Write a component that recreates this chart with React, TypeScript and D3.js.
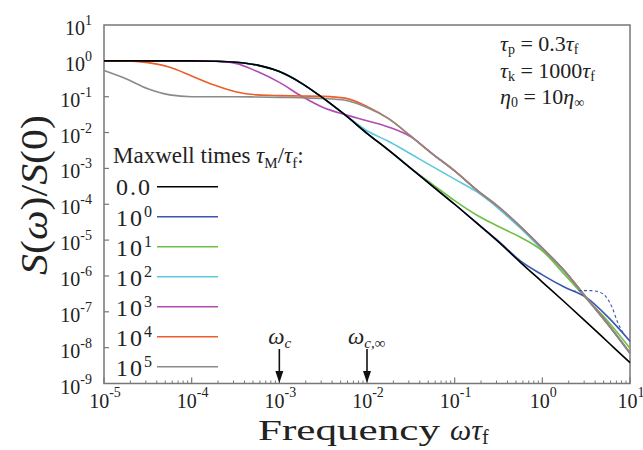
import React from "react";
import * as d3 from "d3";

const WIDTH = 643;
const HEIGHT = 450;
const PLOT = { left: 104, right: 630, top: 25, bottom: 383.5 };
const FONT = "Liberation Serif, Tinos, Times New Roman, DejaVu Serif, serif";

// log10(omega * tau_f) grid shared by all curves
const logOmega = [
  -5, -4.75, -4.5, -4.25, -4, -3.75, -3.5, -3.25, -3, -2.75, -2.5, -2.25, -2,
  -1.75, -1.5, -1.25, -1, -0.75, -0.5, -0.25, 0, 0.25, 0.5, 0.75, 1,
];

// log10 S(w)/S(0), one array per Maxwell time
const tau0 = [0, 0, 0, 0, 0, -0.01, -0.04, -0.12, -0.3, -0.62, -1.04, -1.51, -2.02, -2.5, -3.0, -3.5, -4.0, -4.52, -5.05, -5.62, -6.17, -6.72, -7.28, -7.85, -8.42];
const tau1 = [0, 0, 0, 0, 0, -0.01, -0.04, -0.12, -0.3, -0.62, -1.04, -1.51, -2.02, -2.5, -3.0, -3.5, -4.0, -4.52, -5.03, -5.58, -5.97, -6.31, -6.6, -7.15, -7.82];
const tau10 = [0, 0, 0, 0, 0, -0.01, -0.04, -0.12, -0.3, -0.62, -1.04, -1.51, -2.02, -2.5, -3.0, -3.45, -3.9, -4.3, -4.62, -4.92, -5.3, -5.95, -6.62, -7.27, -8.02];
const tau100 = [0, 0, 0, 0, 0, -0.01, -0.04, -0.12, -0.3, -0.62, -1.04, -1.51, -1.95, -2.25, -2.6, -2.95, -3.3, -3.65, -4.12, -4.67, -5.27, -5.88, -6.62, -7.37, -8.17];
const tau1000 = [0, 0, 0, 0, 0, -0.01, -0.07, -0.3, -0.6, -0.98, -1.3, -1.5, -1.67, -1.85, -2.12, -2.6, -3.07, -3.6, -4.07, -4.62, -5.22, -5.85, -6.6, -7.35, -8.15];
const tau1e4 = [0, 0, -0.05, -0.18, -0.42, -0.67, -0.86, -0.95, -0.97, -0.98, -0.99, -1.04, -1.27, -1.62, -2.1, -2.6, -3.07, -3.6, -4.07, -4.62, -5.22, -5.85, -6.6, -7.35, -8.15];
const tau1e5 = [-0.27, -0.5, -0.78, -0.95, -1.0, -1.0, -1.0, -1.01, -1.02, -1.03, -1.05, -1.1, -1.3, -1.62, -2.1, -2.6, -3.07, -3.6, -4.07, -4.62, -5.22, -5.85, -6.6, -7.35, -8.15];

// dashed branch of the tau_M = 1 curve
const dashedOmega = [0.35, 0.45, 0.55, 0.65, 0.72, 0.8, 0.86, 0.93];
const dashedS = [-6.43, -6.41, -6.41, -6.45, -6.56, -6.9, -7.3, -7.62];

const legendLabels = ["0.0", "0", "1", "2", "3", "4", "5"];
const colors = ["#000000", "#3a55b4", "#6ec043", "#5cc8de", "#b04cb3", "#ea5f2c", "#8a8a8a"];
const seriesValues = [tau0, tau1, tau10, tau100, tau1000, tau1e4, tau1e5];
const drawOrder = [3, 2, 1, 4, 5, 6, 0];

const xExponents = [-5, -4, -3, -2, -1, 0, 1];
const yExponents = [-9, -8, -7, -6, -5, -4, -3, -2, -1, 0, 1];
const arrowOmegas = [1e-3, 1e-2];

const x = d3.scaleLog().domain([1e-5, 10]).range([PLOT.left, PLOT.right]);
const y = d3.scaleLog().domain([1e-9, 10]).range([PLOT.bottom, PLOT.top]);

const line = d3
  .line<[number, number]>()
  .x((d) => x(Math.pow(10, d[0])))
  .y((d) => y(Math.pow(10, d[1])))
  .curve(d3.curveMonotoneX);

const Pow10 = ({ exp, x0, y0, anchor, sup }: { exp: string; x0: number; y0: number; anchor: string; sup: number }) => (
  <text x={x0} y={y0} textAnchor={anchor} style={{ fontFamily: FONT }} fontSize={20} fill="#222">
    10
    <tspan dy={sup} fontSize={14}>
      {exp}
    </tspan>
  </text>
);

export default function App() {
  const minorTicks = x.ticks().filter((t) => Math.abs(Math.log10(t) - Math.round(Math.log10(t))) > 1e-6);

  return (
    <svg
      width={WIDTH}
      height={HEIGHT}
      style={{ position: "absolute", left: 0, top: 0, background: "white", fontFamily: FONT }}
    >
      {/* frame */}
      <rect
        x={PLOT.left}
        y={PLOT.top}
        width={PLOT.right - PLOT.left}
        height={PLOT.bottom - PLOT.top}
        fill="none"
        stroke="#777"
        strokeWidth={1.5}
      />

      {/* y ticks */}
      {yExponents.map((e) => (
        <g key={"y" + e}>
          {e > -9 && e < 1 && (
            <line x1={PLOT.left} x2={PLOT.left + 5} y1={y(Math.pow(10, e))} y2={y(Math.pow(10, e))} stroke="#777" strokeWidth={1.2} />
          )}
          <Pow10 exp={String(e)} x0={92} y0={y(Math.pow(10, e)) + 10} anchor="end" sup={-10} />
        </g>
      ))}

      {/* x ticks */}
      {xExponents.map((e) => (
        <g key={"x" + e}>
          <line x1={x(Math.pow(10, e))} x2={x(Math.pow(10, e))} y1={PLOT.bottom} y2={PLOT.bottom - 6} stroke="#777" strokeWidth={1.2} />
          <Pow10 exp={String(e)} x0={x(Math.pow(10, e)) + 1} y0={408} anchor="middle" sup={-11} />
        </g>
      ))}
      {minorTicks.map((t, i) => (
        <line key={"m" + i} x1={x(t)} x2={x(t)} y1={PLOT.bottom} y2={PLOT.bottom - 3} stroke="#777" strokeWidth={1} />
      ))}

      {/* curves */}
      {drawOrder.map((i) => (
        <path
          key={"c" + i}
          d={line(logOmega.map((lx, j) => [lx, seriesValues[i][j]] as [number, number])) || ""}
          fill="none"
          stroke={colors[i]}
          strokeWidth={1.6}
        />
      ))}
      <path
        d={line(dashedOmega.map((lx, j) => [lx, dashedS[j]] as [number, number])) || ""}
        fill="none"
        stroke={colors[1]}
        strokeWidth={1.1}
        strokeDasharray="3,2.5"
      />

      {/* arrows */}
      {arrowOmegas.map((w, i) => (
        <g key={"a" + i}>
          <line x1={x(w)} x2={x(w)} y1={349} y2={374} stroke="#111" strokeWidth={1.6} />
          <path d={`M${x(w) - 4},${371} L${x(w) + 4},${371} L${x(w)},${383} Z`} fill="#111" />
        </g>
      ))}
      <text x={x(1e-3) - 11} y={344} fontSize={23} fill="#222">
        <tspan fontStyle="italic">ω</tspan>
        <tspan dy={4} fontSize={15} fontStyle="italic">c</tspan>
      </text>
      <text x={x(1e-2) - 19} y={344} fontSize={23} fill="#222">
        <tspan fontStyle="italic">ω</tspan>
        <tspan dy={4} fontSize={15} fontStyle="italic">c,∞</tspan>
      </text>

      {/* parameters */}
      <g fontSize={22} fill="#222">
        <text x={500} y={51}>
          <tspan fontStyle="italic">τ</tspan>
          <tspan dy={3} fontSize={14}>p</tspan>
          <tspan dy={-3}> = 0.3</tspan>
          <tspan fontStyle="italic">τ</tspan>
          <tspan dy={3} fontSize={14}>f</tspan>
        </text>
        <text x={500} y={78}>
          <tspan fontStyle="italic">τ</tspan>
          <tspan dy={3} fontSize={14}>k</tspan>
          <tspan dy={-3}> = 1000</tspan>
          <tspan fontStyle="italic">τ</tspan>
          <tspan dy={3} fontSize={14}>f</tspan>
        </text>
        <text x={500} y={104}>
          <tspan fontStyle="italic">η</tspan>
          <tspan dy={3} fontSize={14}>0</tspan>
          <tspan dy={-3}> = 10</tspan>
          <tspan fontStyle="italic">η</tspan>
          <tspan dy={3} fontSize={14}>∞</tspan>
        </text>
      </g>

      {/* legend */}
      <g fill="#222">
        <text x={113} y={163} fontSize={23}>
          Maxwell times <tspan fontStyle="italic">τ</tspan>
          <tspan dy={5} fontSize={15}>M</tspan>
          <tspan dy={-5}>/</tspan>
          <tspan fontStyle="italic">τ</tspan>
          <tspan dy={5} fontSize={15}>f</tspan>
          <tspan dy={-5}>:</tspan>
        </text>
        {legendLabels.map((lab, i) => {
          const ly = 186.7 + i * 30;
          return (
            <g key={"l" + i}>
              <line x1={157} x2={218} y1={ly} y2={ly} stroke={colors[i]} strokeWidth={1.6} />
              {i === 0 ? (
                <text x={116} y={ly + 8} fontSize={24} letterSpacing={2}>
                  {lab}
                </text>
              ) : (
                <text x={116} y={ly + 9} fontSize={24} letterSpacing={2}>
                  10
                  <tspan dy={-9} fontSize={16} letterSpacing={0}>
                    {lab}
                  </tspan>
                </text>
              )}
            </g>
          );
        })}
      </g>

      {/* axis titles */}
      <text
        transform="translate(47,195) rotate(-90)"
        textAnchor="middle"
        fontSize={38}
        fill="#222"
        textLength={160}
        lengthAdjust="spacingAndGlyphs"
      >
        <tspan fontStyle="italic">S</tspan>(<tspan fontStyle="italic">ω</tspan>)/<tspan fontStyle="italic">S</tspan>(0)
      </text>
      <text x={258} y={440} fontSize={30} fill="#222">
        <tspan textLength={182} lengthAdjust="spacingAndGlyphs">Frequency</tspan>
        <tspan dx={10} fontStyle="italic">ωτ</tspan>
        <tspan dy={4} fontSize={20}>f</tspan>
      </text>
    </svg>
  );
}
